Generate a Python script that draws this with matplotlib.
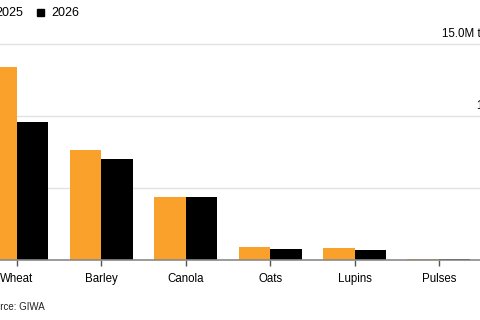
import matplotlib
matplotlib.use("Agg")
import matplotlib.pyplot as plt
from matplotlib.patches import Rectangle
import numpy as np

plt.rcParams['font.family'] = ['Liberation Sans', 'DejaVu Sans']

categories = ["Wheat", "Barley", "Canola", "Oats", "Lupins", "Pulses"]
series_names = ["2025", "2026"]
values_2025 = [13.36, 7.65, 4.36, 0.94, 0.87, 0.07]
values_2026 = [9.57, 7.01, 4.36, 0.76, 0.71, 0.06]
ytick_values = [5, 10, 15]
ytick_labels = ["5.0", "10.0", "15.0M tons"]
source_text = "Source: GIWA"

colors = ["#F9A12B", "#000000"]

W, H = 4.8, 3.2
fig = plt.figure(figsize=(W, H), dpi=100)
ax = fig.add_axes([0, 0.1866, 1, 0.70])

x = np.arange(len(categories))
bw = 0.373
ax.bar(x - bw / 2, values_2025, width=bw, color=colors[0], zorder=3)
ax.bar(x + bw / 2, values_2026, width=bw, color=colors[1], zorder=3)

ax.set_xlim(-0.2, 5.486)
ax.set_ylim(0, 15.5)

for s in ["top", "right", "left"]:
    ax.spines[s].set_visible(False)
ax.spines["bottom"].set_color("#8a8a8a")
ax.spines["bottom"].set_linewidth(1.2)
ax.spines["bottom"].set_zorder(4)

ax.set_yticks(ytick_values)
ax.tick_params(axis="y", length=0, labelleft=False)
ax.yaxis.grid(True, color="#e2e2e2", linewidth=1.0, zorder=0)

ax.set_xticks(x)
ax.set_xticklabels(categories, fontsize=8.3, color="#000000")
ax.tick_params(axis="x", length=4, width=1, color="#555555", pad=5)

# right-side y labels, right aligned beyond the figure edge
for v, lab in zip(ytick_values, ytick_labels):
    ax.annotate(lab, xy=(1, v), xycoords=("axes fraction", "data"),
                xytext=(19, 4), textcoords="offset pixels",
                ha="right", va="bottom", fontsize=8.3, color="#000000")

# legend
def px(xp, yp):
    return xp / (W * 100), 1 - yp / (H * 100)

sq = 7.5
leg_x = [-19.5, 36.5]
for i, name in enumerate(series_names):
    x0, y0 = px(leg_x[i], 12.3 + sq / 2)
    fig.patches.append(Rectangle((x0, y0), sq / (W * 100), sq / (H * 100),
                                 transform=fig.transFigure, color=colors[i]))
    tx, ty = px(leg_x[i] + 15.2, 12.5)
    fig.text(tx, ty, name, fontsize=9, va="center", ha="left", color="#000000")

sx, sy = px(-17, 307)
fig.text(sx, sy, source_text, fontsize=7, va="center", ha="left", color="#222222")

fig.savefig("out.png", dpi=100)
